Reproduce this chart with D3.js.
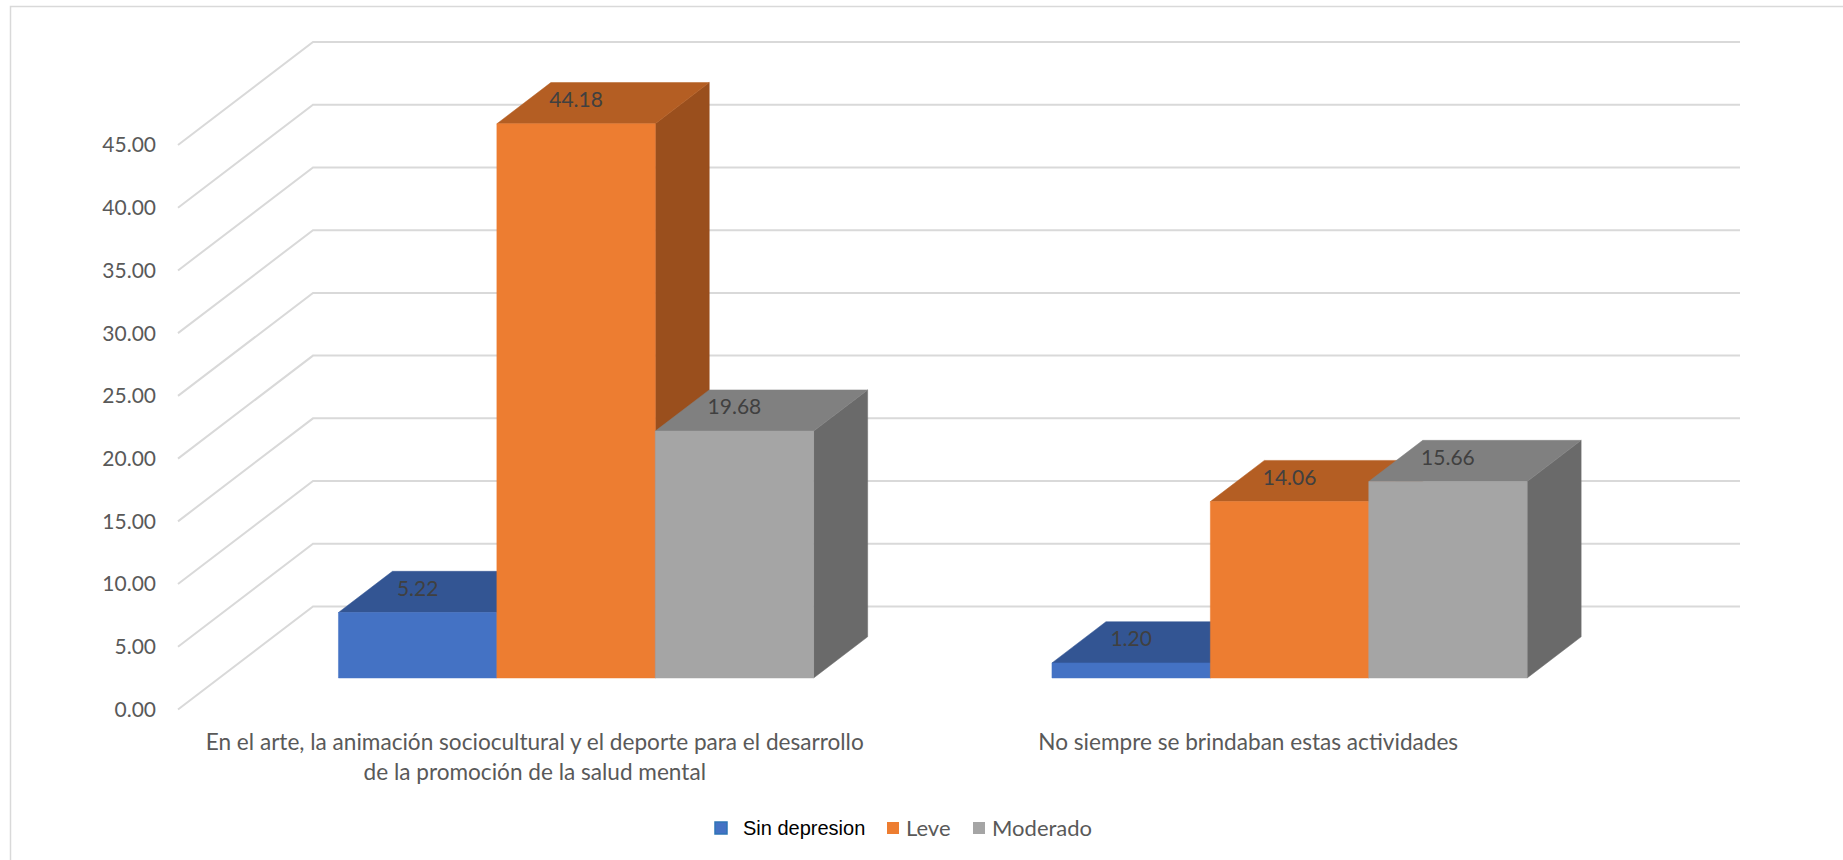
<!DOCTYPE html>
<html>
<head>
<meta charset="utf-8">
<script src="https://cdn.jsdelivr.net/npm/d3@7"></script>
<style>
  body { margin: 0; background: #fff; }
  svg { display: block; }
</style>
</head>
<body>
<div id="chart"></div>
<script>
// data
const categories = [
  "En el arte, la animación sociocultural y el deporte para el desarrollo de la promoción de la salud mental",
  "No siempre se brindaban estas actividades"
];
const series = ["Sin depresion", "Leve", "Moderado"];
const sinDepresion = [5.22, 1.20];
const leve = [44.18, 14.06];
const moderado = [19.68, 15.66];
const yTicks = [0, 5, 10, 15, 20, 25, 30, 35, 40, 45];

const values = [sinDepresion, leve, moderado];

// face colours: front, top, side
const colors = {
  "Sin depresion": ["#4472C4", "#335593", "#2B4D8A"],
  "Leve": ["#ED7D31", "#B45E23", "#9A4F1D"],
  "Moderado": ["#A5A5A5", "#808080", "#6A6A6A"]
};

const width = 1843, height = 860;

// 3d box geometry (front plane of the floor + depth offset)
const floorLeft = 178, floorWidth = 1427;
const DX = 135, DY = 103;      // offset from front wall to back wall
const d1 = 0.306, d2 = 0.706;  // depth of the bars

const svg = d3.select("#chart").append("svg")
    .attr("width", width)
    .attr("height", height);

// chart area border
svg.append("rect")
    .attr("x", 10.5).attr("y", 6.5)
    .attr("width", width).attr("height", height)
    .attr("fill", "none")
    .attr("stroke", "#d9d9d9")
    .attr("stroke-width", 1.5);

let y = d3.scaleLinear().domain([0, 45]).range([709.5, 145]);

let x0 = d3.scaleBand()
    .domain(categories)
    .range([0, floorWidth])
    .paddingInner(0.334)
    .paddingOuter(0.167);

let x1 = d3.scaleBand()
    .domain(series)
    .range([0, x0.bandwidth()]);

function proj(fx, v, d) {
  return [floorLeft + fx + d * DX, y(v) - d * DY];
}

// gridlines: side wall diagonal + back wall
let grid = svg.append("g").attr("class", "grid")
    .attr("fill", "none")
    .attr("stroke", "#d9d9d9")
    .attr("stroke-width", 2);

grid.selectAll("path")
    .data(yTicks)
  .enter().append("path")
    .attr("d", function(t) {
      let a = proj(0, t, 0), b = proj(0, t, 1), c = proj(floorWidth, t, 1);
      return "M" + a + "L" + b + "L" + c;
    });

// y axis labels
svg.append("g")
    .selectAll("text")
    .data(yTicks)
  .enter().append("text")
    .attr("x", 156)
    .attr("y", d => y(d))
    .attr("dy", "0.35em")
    .attr("text-anchor", "end")
    .style("font-family", "Lato, 'Open Sans', sans-serif")
    .style("font-size", "21px")
    .style("fill", "#595959")
    .text(d => d3.format(".2f")(d));

// bars
let bars = [];
categories.forEach(function(c, i) {
  series.forEach(function(s, j) {
    bars.push({cat: c, ser: s, value: values[j][i]});
  });
});

function poly(pts) { return "M" + pts.join("L") + "Z"; }

let barG = svg.append("g").attr("class", "bars");

let bar = barG.selectAll("g")
    .data(bars)
  .enter().append("g");

bar.each(function(d) {
  let g = d3.select(this);
  let xl = x0(d.cat) + x1(d.ser);
  let xr = xl + x1.bandwidth();
  let col = colors[d.ser];

  // right side
  g.append("path")
      .attr("d", poly([proj(xr, 0, d1), proj(xr, d.value, d1), proj(xr, d.value, d2), proj(xr, 0, d2)]))
      .attr("fill", col[2])
      .attr("stroke", col[2]).attr("stroke-width", 0.5);
  // top
  g.append("path")
      .attr("d", poly([proj(xl, d.value, d1), proj(xr, d.value, d1), proj(xr, d.value, d2), proj(xl, d.value, d2)]))
      .attr("fill", col[1])
      .attr("stroke", col[1]).attr("stroke-width", 0.5);
  // front
  g.append("path")
      .attr("d", poly([proj(xl, 0, d1), proj(xr, 0, d1), proj(xr, d.value, d1), proj(xl, d.value, d1)]))
      .attr("fill", col[0])
      .attr("stroke", col[0]).attr("stroke-width", 0.5);
});

// value labels on the top faces
svg.append("g")
    .selectAll("text")
    .data(bars)
  .enter().append("text")
    .attr("x", d => proj(x0(d.cat) + x1(d.ser) + x1.bandwidth() / 2, d.value, d1)[0])
    .attr("y", d => proj(0, d.value, d1)[1] - 24)
    .attr("dy", "0.35em")
    .attr("text-anchor", "middle")
    .style("font-family", "Lato, 'Open Sans', sans-serif")
    .style("font-size", "21px")
    .style("fill", "#404040")
    .text(d => d3.format(".2f")(d.value));

// category labels, wrapped
function wrap(text, maxW) {
  text.each(function() {
    let t = d3.select(this),
        words = t.text().split(/\s+/),
        line = [], lines = [];
    t.text(null);
    let tspan = t.append("tspan");
    words.forEach(function(w) {
      line.push(w);
      tspan.text(line.join(" "));
      if (tspan.node().getComputedTextLength() > maxW && line.length > 1) {
        line.pop();
        lines.push(line.join(" "));
        line = [w];
      }
    });
    lines.push(line.join(" "));
    t.text(null);
    lines.forEach(function(l, k) {
      t.append("tspan")
          .attr("x", t.attr("x"))
          .attr("dy", k == 0 ? "0.35em" : "30px")
          .text(l);
    });
  });
}

svg.append("g")
    .selectAll("text")
    .data(categories)
  .enter().append("text")
    .attr("x", d => floorLeft + x0(d) + x0.bandwidth() / 2)
    .attr("y", 742)
    .attr("text-anchor", "middle")
    .style("font-family", "Lato, 'Open Sans', sans-serif")
    .style("font-size", "22.6px")
    .style("fill", "#595959")
    .text(d => d)
    .call(wrap, 672);

// legend
const legendBoxX = [715, 887, 973];
const legendTextX = [743, 906, 992];
let legend = svg.append("g").attr("class", "legend");

series.forEach(function(s, j) {
  legend.append("rect")
      .attr("x", legendBoxX[j])
      .attr("y", 822)
      .attr("width", 12).attr("height", 12)
      .attr("fill", colors[s][0])
      .attr("stroke", j == 0 ? "#2E75B6" : "none")
      .attr("stroke-width", 1.5);
  legend.append("text")
      .attr("x", legendTextX[j])
      .attr("y", 828)
      .attr("dy", "0.35em")
      .style("font-family", j == 0 ? "'Liberation Sans', Arial, sans-serif" : "Lato, 'Open Sans', sans-serif")
      .style("font-size", j == 0 ? "20px" : "22px")
      .style("fill", j == 0 ? "#000" : "#595959")
      .text(s);
});
</script>
</body>
</html>
